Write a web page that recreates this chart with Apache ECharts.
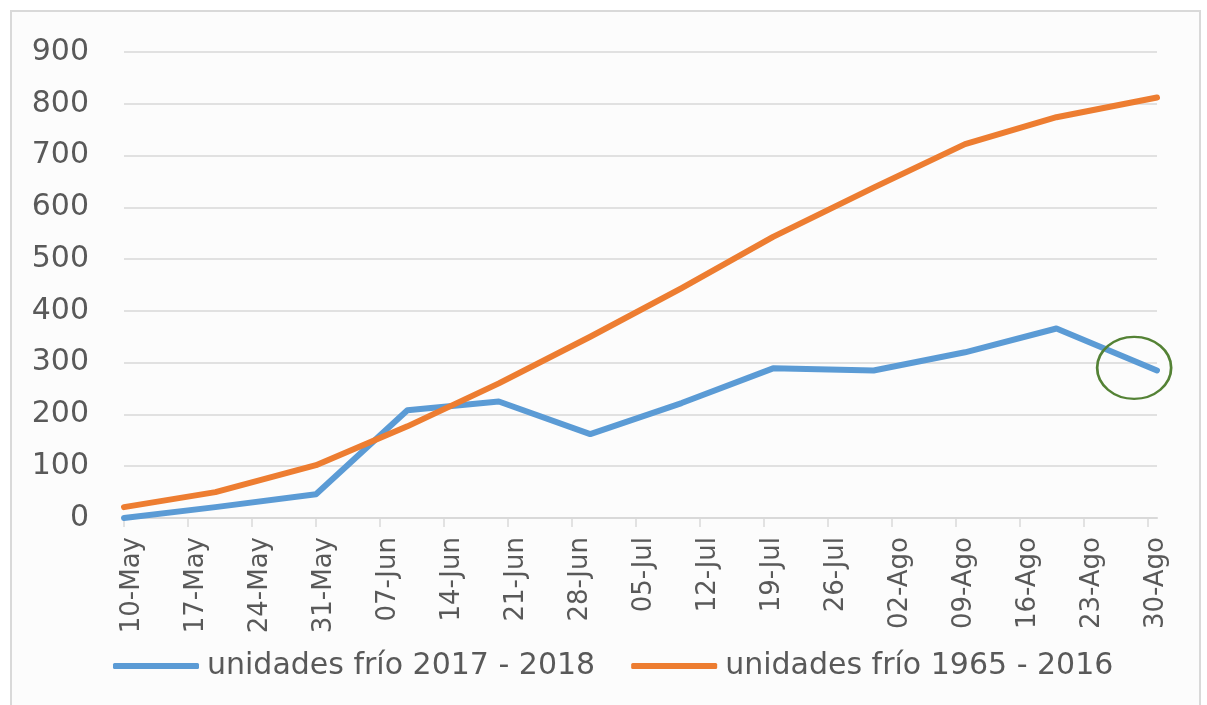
<!DOCTYPE html>
<html>
<head>
<meta charset="utf-8">
<title>unidades frío</title>
<script src="https://cdn.jsdelivr.net/npm/echarts@6/dist/echarts.min.js"></script>
<style>
    html, body { margin: 0; padding: 0; background: #ffffff; overflow: hidden; }
    #frame {
        position: absolute; left: 10px; top: 10px;
        width: 1187px; height: 720px;
        border: 2px solid #d9d9d9; background: #fcfcfc;
    }
    #chart { position: absolute; left: 0; top: 0; width: 1207px; height: 705px; }
</style>
</head>
<body>
<div id="frame"></div>
<div id="chart"></div>
<script>
    // fechas de los puntos (decadas)
    let dates = ['2018-05-10', '2018-05-20', '2018-05-31', '2018-06-10', '2018-06-20', '2018-06-30',
        '2018-07-10', '2018-07-20', '2018-07-31', '2018-08-10', '2018-08-20', '2018-08-31']
    let frio_2017_2018 = [0, 21, 46, 208, 225, 162, 222, 289, 285, 320, 366, 285]
    let frio_1965_2016 = [21, 50, 102, 177, 260, 350, 444, 543, 638, 722, 774, 812]
    let xTickLabels = ['10-May', '17-May', '24-May', '31-May', '07-Jun', '14-Jun', '21-Jun', '28-Jun',
        '05-Jul', '12-Jul', '19-Jul', '26-Jul', '02-Ago', '09-Ago', '16-Ago', '23-Ago', '30-Ago']
    let seriesNames = ['unidades frío 2017 - 2018', 'unidades frío 1965 - 2016']
    // punto marcado con el circulo verde (dias desde 10-May)
    let highlight = {day: 110.5, value: 290}

    let startDate = '2018-05-10'
    let endDate = '2018-08-31'
    let dayOf = function (d) {
        return (Date.parse(d + 'T00:00:00Z') - Date.parse(startDate + 'T00:00:00Z')) / 86400000
    }

    let font = 'DejaVu Sans'
    let textColor = '#595959'
    let gridColor = '#d9d9d9'

    let tickDays = xTickLabels.map(function (l, i) { return i * 7 })

    let option = {
        animation: false,
        textStyle: {fontFamily: font},
        grid: {
            left: 124,
            right: 50,
            top: 52,
            bottom: 187
        },
        legend: {
            left: 108,
            top: 646,
            icon: 'roundRect',
            itemWidth: 86,
            itemHeight: 6,
            itemGap: 36,
            textStyle: {fontFamily: font, fontSize: 30, color: textColor, padding: [0, 0, 0, 3]},
            data: seriesNames
        },
        xAxis: {
            type: 'value',
            min: 0,
            max: dayOf(endDate),
            interval: 7,
            splitLine: {show: false},
            axisLine: {show: true, lineStyle: {color: gridColor, width: 2}},
            axisTick: {
                show: true, length: 9, lineStyle: {color: gridColor, width: 1.5},
                customValues: tickDays
            },
            axisLabel: {
                rotate: 90,
                margin: 19,
                fontFamily: font,
                fontSize: 26,
                color: textColor,
                verticalAlign: 'top',
                lineHeight: 16,
                customValues: tickDays,
                formatter: function (v) {
                    let i = Math.round(v / 7)
                    return (v % 7 === 0 && xTickLabels[i]) ? xTickLabels[i] : ''
                }
            }
        },
        yAxis: {
            type: 'value',
            min: 0,
            max: 900,
            interval: 100,
            axisLine: {show: false},
            axisTick: {show: false},
            splitLine: {lineStyle: {color: gridColor, width: 1.5}},
            axisLabel: {margin: 35, fontFamily: font, fontSize: 30, color: textColor}
        },
        series: [
            {
                name: seriesNames[0],
                type: 'line',
                symbol: 'none',
                color: '#5b9bd5',
                lineStyle: {width: 6, cap: 'round', join: 'round'},
                data: dates.map(function (d, i) { return [dayOf(d), frio_2017_2018[i]] }),
                markPoint: {
                    silent: true,
                    symbol: 'circle',
                    symbolSize: [74, 62],
                    itemStyle: {color: 'rgba(0,0,0,0)', borderColor: '#548235', borderWidth: 2.5},
                    label: {show: false},
                    data: [{coord: [highlight.day, highlight.value]}]
                }
            },
            {
                name: seriesNames[1],
                type: 'line',
                symbol: 'none',
                color: '#ed7d31',
                lineStyle: {width: 6, cap: 'round', join: 'round'},
                data: dates.map(function (d, i) { return [dayOf(d), frio_1965_2016[i]] })
            }
        ]
    }

    let myChart = echarts.init(document.getElementById('chart'))
    myChart.setOption(option)
</script>
</body>
</html>
